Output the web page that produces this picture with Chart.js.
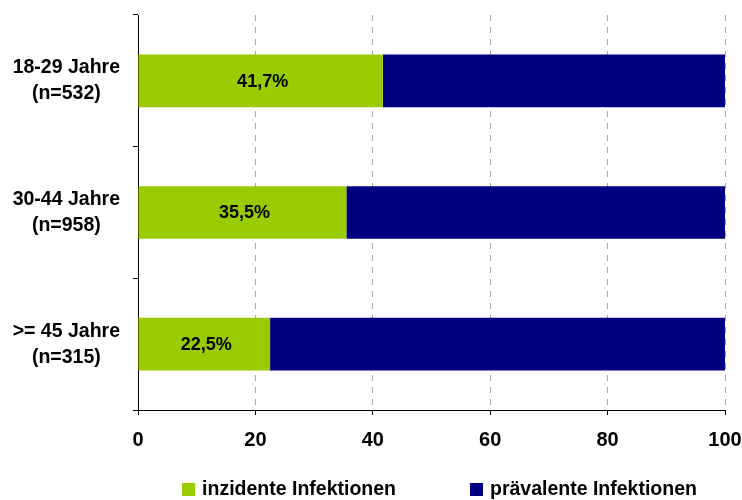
<!DOCTYPE html>
<html>
<head>
<meta charset="utf-8">
<script src="https://cdn.jsdelivr.net/npm/chart.js@4"></script>
<style>
    body { margin: 0; background: #fff; }
    #wrap { width: 742px; height: 500px; position: relative; }
</style>
</head>
<body>
<div id="wrap"><canvas id="myChart"></canvas></div>
<script>
const ageGroups = [['18-29 Jahre', '(n=532)'], ['30-44 Jahre', '(n=958)'], ['>= 45 Jahre', '(n=315)']];
const seriesNames = ['inzidente Infektionen', 'prävalente Infektionen'];
const incident = [41.7, 35.5, 22.5];
const prevalent = [58.3, 64.5, 77.5];
const xTicks = [0, 20, 40, 60, 80, 100];

const FONT = "'Liberation Sans', Arial, sans-serif";

// no automatic label padding, the layout padding below is exact
function noPadding(axis) {
    axis.paddingTop = 0;
    axis.paddingBottom = 0;
    axis.paddingLeft = 0;
    axis.paddingRight = 0;
}

// labels inside the green bars
const barLabels = {
    id: 'barLabels',
    afterDatasetsDraw(chart) {
        const ctx = chart.ctx;
        const meta = chart.getDatasetMeta(0);
        ctx.save();
        ctx.font = 'bold 18px ' + FONT;
        ctx.fillStyle = '#000';
        ctx.textAlign = 'center';
        ctx.textBaseline = 'middle';
        meta.data.forEach((bar, i) => {
            const text = incident[i].toFixed(1).replace('.', ',') + '%';
            ctx.fillText(text, (bar.x + bar.base) / 2 + 2, bar.y + 1);
        });
        ctx.restore();
    }
};

// legend below the axis
const bottomLegend = {
    id: 'bottomLegend',
    afterDraw(chart) {
        const ctx = chart.ctx;
        const area = chart.chartArea;
        const box = 13, gap = 7, spacing = 74;
        ctx.save();
        ctx.font = 'bold 19.5px ' + FONT;
        const widths = chart.data.datasets.map(ds => ctx.measureText(ds.label).width);
        let total = 0;
        widths.forEach((w, i) => { total += box + gap + w + (i > 0 ? spacing : 0); });
        let x = (area.left + area.right) / 2 + 8 - total / 2;
        const y = 490;
        ctx.textBaseline = 'middle';
        ctx.textAlign = 'left';
        chart.data.datasets.forEach((ds, i) => {
            ctx.fillStyle = ds.backgroundColor;
            ctx.fillRect(x, y - 7, box, box);
            ctx.fillStyle = '#000';
            ctx.fillText(ds.label, x + box + gap, y);
            x += box + gap + widths[i] + spacing;
        });
        ctx.restore();
    }
};

const ctx = document.getElementById('myChart').getContext('2d');
const myChart = new Chart(ctx, {
    type: 'bar',
    data: {
        labels: ageGroups,
        datasets: [{
            label: seriesNames[0],
            data: incident,
            backgroundColor: '#99cc00',
            barPercentage: 0.4,
            categoryPercentage: 1
        }, {
            label: seriesNames[1],
            data: prevalent,
            backgroundColor: '#000080',
            barPercentage: 0.4,
            categoryPercentage: 1
        }]
    },
    options: {
        indexAxis: 'y',
        responsive: true,
        maintainAspectRatio: false,
        animation: false,
        layout: { padding: { top: 15, right: 17, left: 0, bottom: 0 } },
        plugins: {
            legend: { display: false },
            tooltip: { enabled: false }
        },
        scales: {
            x: {
                stacked: true,
                min: 0,
                max: 100,
                afterBuildTicks: (axis) => { axis.ticks = xTicks.map(v => ({ value: v })); },
                afterFit: (axis) => { axis.height = 90; noPadding(axis); },
                border: { display: true, color: '#000', width: 1, dash: [6, 6] },
                grid: {
                    color: (c) => c.tick && c.tick.value === 0 ? 'rgba(0,0,0,0)' : '#a6a6a6',
                    tickColor: '#000',
                    tickLength: 5,
                    drawTicks: true
                },
                ticks: {
                    color: '#000',
                    padding: 13,
                    font: { family: FONT, size: 20, weight: 'bold' }
                }
            },
            y: {
                stacked: true,
                weight: 0,
                afterFit: (axis) => { axis.width = 15; noPadding(axis); },
                border: { display: true, color: '#000', width: 1 },
                grid: {
                    offset: true,
                    drawOnChartArea: false,
                    drawTicks: true,
                    tickLength: 5,
                    tickColor: '#000'
                },
                ticks: { display: false }
            },
            yl: {
                type: 'category',
                position: 'left',
                weight: 1,
                labels: ageGroups,
                afterFit: (axis) => { axis.width = 123; noPadding(axis); },
                border: { display: false },
                grid: { display: false, drawTicks: false },
                ticks: {
                    color: '#000',
                    crossAlign: 'center',
                    font: { family: FONT, size: 19.5, weight: 'bold', lineHeight: 1.33 }
                }
            }
        }
    },
    plugins: [barLabels, bottomLegend]
});
</script>
</body>
</html>
